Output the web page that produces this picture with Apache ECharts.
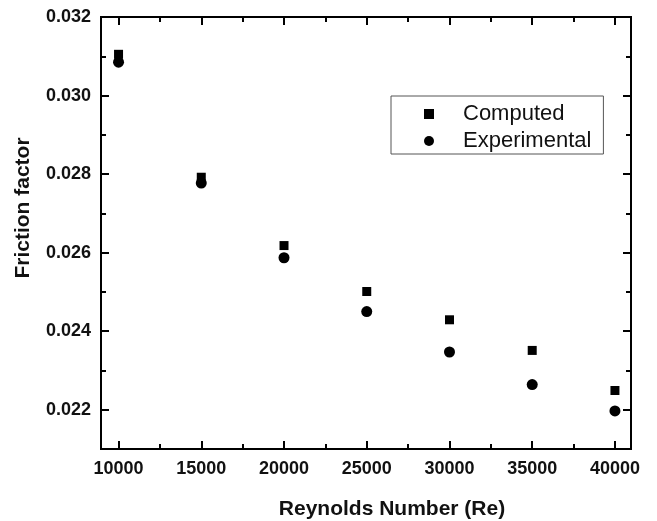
<!DOCTYPE html>
<html>
<head>
<meta charset="utf-8">
<script src="https://cdn.jsdelivr.net/npm/echarts@6/dist/echarts.min.js"></script>
<style>
html,body{margin:0;padding:0;background:#fff;}
#c{width:657px;height:521px;}
</style>
</head>
<body>
<div id="c"></div>
<script>
const reynolds = [10000, 15000, 20000, 25000, 30000, 35000, 40000];
const computed = [0.03105, 0.02792, 0.02618, 0.02501, 0.02429, 0.02351, 0.02249];
const experimental = [0.03085, 0.02777, 0.02587, 0.02450, 0.02347, 0.02264, 0.02197];
const xMajor = [10000, 15000, 20000, 25000, 30000, 35000, 40000];
const xMinor = [12500, 17500, 22500, 27500, 32500, 37500];
const yMajor = [0.022, 0.024, 0.026, 0.028, 0.030, 0.032];
const yMinor = [0.021, 0.023, 0.025, 0.027, 0.029, 0.031];
const xRange = [8940, 40970];
const yRange = [0.021, 0.032];

const FONT = 'Liberation Sans, Arial, sans-serif';
const chart = echarts.init(document.getElementById('c'), null, {renderer: 'canvas'});

function xAx(pos, ticks, len, labels) {
  return {
    type: 'value', position: pos, min: xRange[0], max: xRange[1],
    axisLine: {show: true, onZero: false, lineStyle: {color: '#000', width: 2}},
    axisTick: {show: true, inside: true, length: len, customValues: ticks, lineStyle: {color: '#000', width: 2}},
    axisLabel: labels ? {show: true, customValues: ticks, margin: 11, color: '#111', fontSize: 18, fontWeight: 'bold', fontFamily: FONT,
      formatter: v => String(v)} : {show: false},
    splitLine: {show: false}
  };
}
function yAx(pos, ticks, len, labels) {
  return {
    type: 'value', position: pos, min: yRange[0], max: yRange[1],
    axisLine: {show: true, onZero: false, lineStyle: {color: '#000', width: 2}},
    axisTick: {show: true, inside: true, length: len, customValues: ticks, lineStyle: {color: '#000', width: 2}},
    axisLabel: labels ? {show: true, customValues: ticks, margin: 10, color: '#111', fontSize: 18, fontWeight: 'bold', fontFamily: FONT,
      formatter: v => v.toFixed(3)} : {show: false},
    splitLine: {show: false}
  };
}

const xMain = xAx('bottom', xMajor, 8, true);
xMain.name = 'Reynolds Number (Re)';
xMain.nameLocation = 'middle';
xMain.nameGap = 50;
xMain.nameTextStyle = {fontSize: 21, fontWeight: 'bold', color: '#111', fontFamily: FONT, padding: [0, 0, 0, 52]};

const yMain = yAx('left', yMajor, 8, true);
yMain.name = 'Friction factor';
yMain.nameLocation = 'middle';
yMain.nameGap = 67;
yMain.nameRotate = 90;
yMain.nameTextStyle = {fontSize: 21, fontWeight: 'bold', color: '#111', fontFamily: FONT, padding: [0, 0, 0, 50]};

chart.setOption({
  backgroundColor: '#fff',
  animation: false,
  grid: {left: 101, top: 17, right: 26, bottom: 72, containLabel: false, outerBoundsMode: 'none'},
  xAxis: [xMain, xAx('bottom', xMinor, 5, false), xAx('top', xMajor, 8, false), xAx('top', xMinor, 5, false)],
  yAxis: [yMain, yAx('left', yMinor, 5, false), yAx('right', yMajor, 8, false), yAx('right', yMinor, 5, false)],
  legend: {
    orient: 'vertical', left: 391, top: 96,
    padding: [7, 12, 2, 33], itemGap: 5, itemWidth: 10, itemHeight: 10,
    borderColor: '#555', borderWidth: 1, backgroundColor: '#fff',
    textStyle: {fontSize: 22, color: '#111', fontFamily: FONT, lineHeight: 20, padding: [0, 0, 0, 24]},
    data: ['Computed', 'Experimental']
  },
  series: [
    {name: 'Computed', type: 'scatter', symbol: 'rect', symbolSize: 9,
     itemStyle: {color: '#000', opacity: 1}, data: reynolds.map((r, i) => [r, computed[i]])},
    {name: 'Experimental', type: 'scatter', symbol: 'circle', symbolSize: 11,
     itemStyle: {color: '#000', opacity: 1}, data: reynolds.map((r, i) => [r, experimental[i]])}
  ]
});
</script>
</body>
</html>
